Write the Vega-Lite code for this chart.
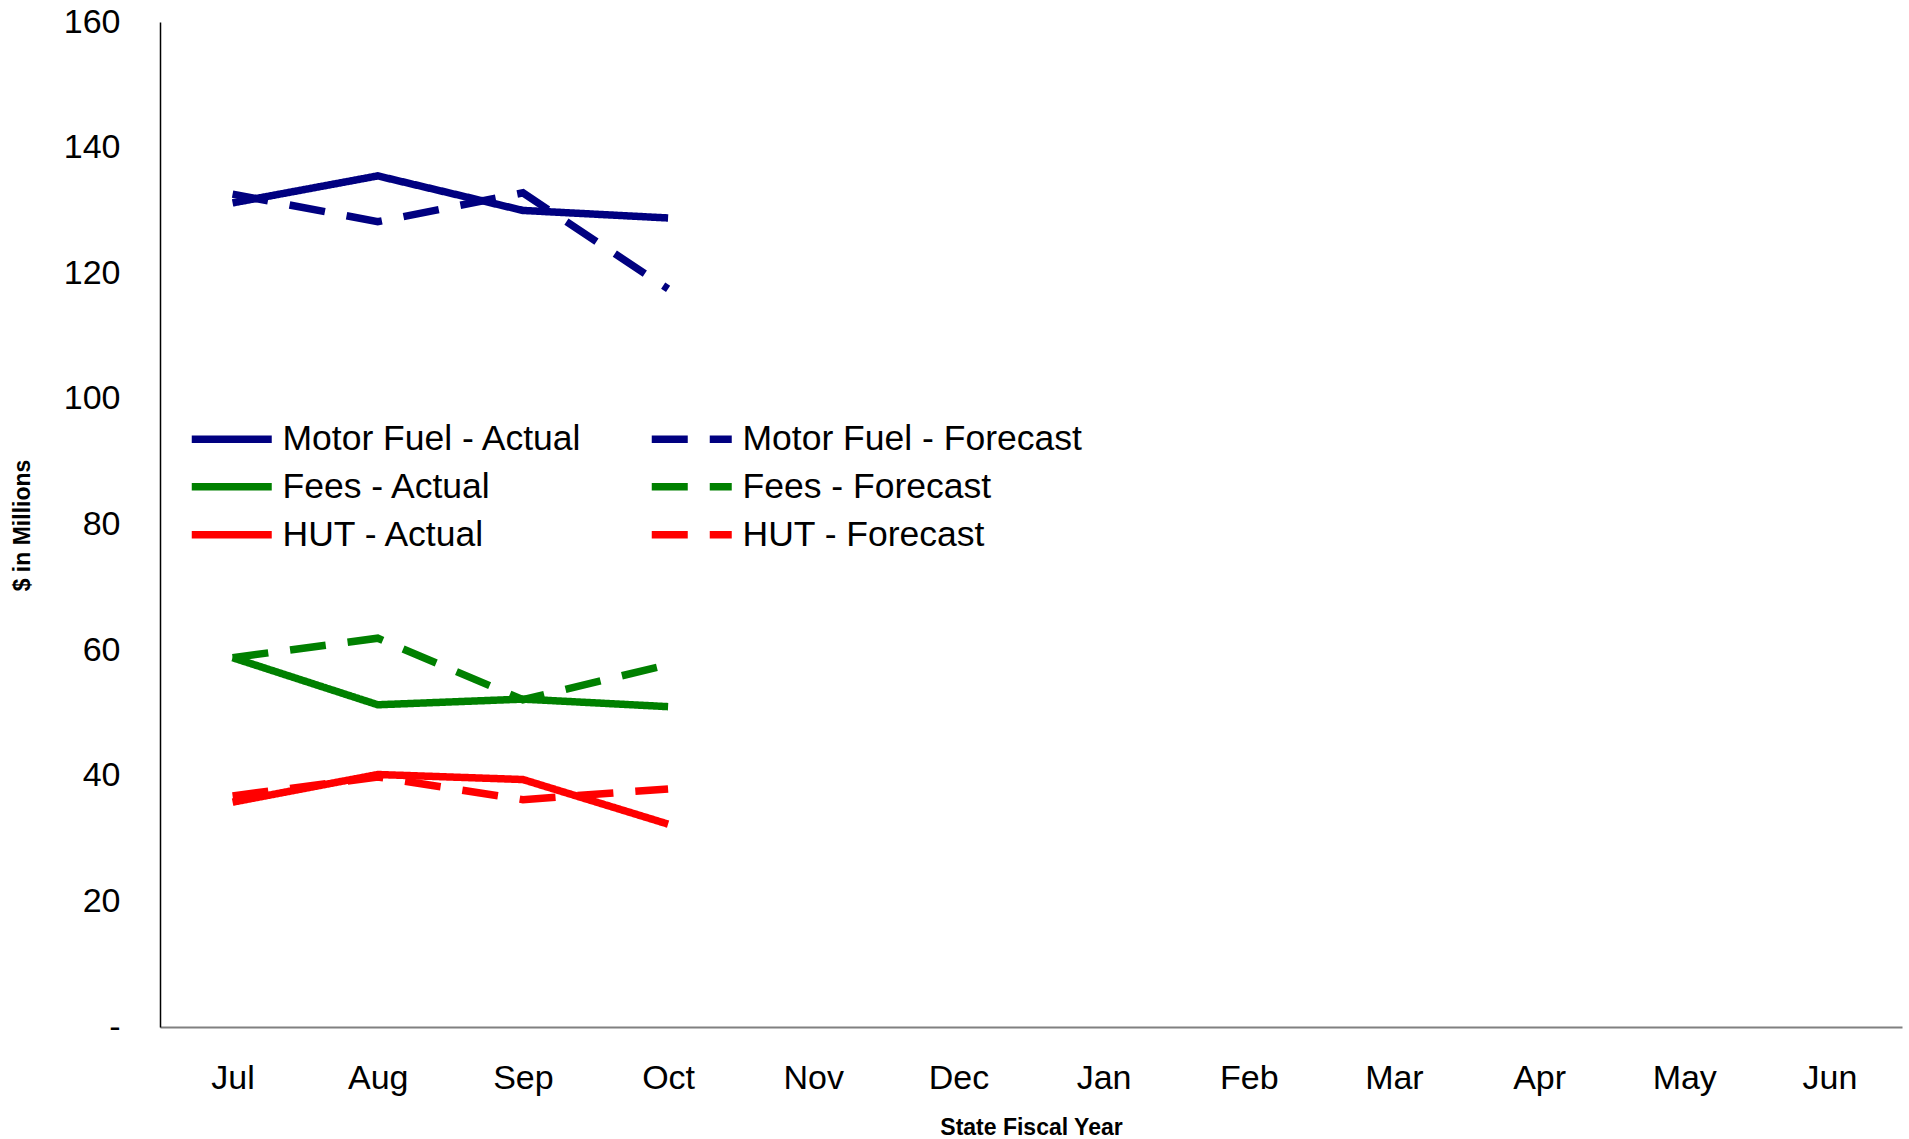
{
  "$schema": "https://vega.github.io/schema/vega-lite/v6.json",
  "width": 1742,
  "height": 1005,
  "autosize": {"type": "none"},
  "padding": {"left": 160, "top": 22, "right": 7, "bottom": 112},
  "background": "white",
  "config": {
    "view": {"stroke": null},
    "font": "Liberation Sans"
  },
  "data": {
    "values": [
      {"month": "Jul", "series": "Motor Fuel - Actual", "value": 131.2},
      {"month": "Aug", "series": "Motor Fuel - Actual", "value": 135.5},
      {"month": "Sep", "series": "Motor Fuel - Actual", "value": 130.0},
      {"month": "Oct", "series": "Motor Fuel - Actual", "value": 128.8},
      {"month": "Jul", "series": "Motor Fuel - Forecast", "value": 132.6},
      {"month": "Aug", "series": "Motor Fuel - Forecast", "value": 128.2},
      {"month": "Sep", "series": "Motor Fuel - Forecast", "value": 132.8},
      {"month": "Oct", "series": "Motor Fuel - Forecast", "value": 117.5},
      {"month": "Jul", "series": "Fees - Actual", "value": 58.8},
      {"month": "Aug", "series": "Fees - Actual", "value": 51.3},
      {"month": "Sep", "series": "Fees - Actual", "value": 52.2},
      {"month": "Oct", "series": "Fees - Actual", "value": 51.0},
      {"month": "Jul", "series": "Fees - Forecast", "value": 58.8},
      {"month": "Aug", "series": "Fees - Forecast", "value": 61.9},
      {"month": "Sep", "series": "Fees - Forecast", "value": 52.1},
      {"month": "Oct", "series": "Fees - Forecast", "value": 57.7},
      {"month": "Jul", "series": "HUT - Actual", "value": 35.8},
      {"month": "Aug", "series": "HUT - Actual", "value": 40.2},
      {"month": "Sep", "series": "HUT - Actual", "value": 39.4},
      {"month": "Oct", "series": "HUT - Actual", "value": 32.3},
      {"month": "Jul", "series": "HUT - Forecast", "value": 36.8},
      {"month": "Aug", "series": "HUT - Forecast", "value": 39.8},
      {"month": "Sep", "series": "HUT - Forecast", "value": 36.2},
      {"month": "Oct", "series": "HUT - Forecast", "value": 37.9}
    ]
  },
  "mark": {"type": "line", "strokeCap": "butt", "strokeJoin": "miter"},
  "encoding": {
    "x": {
      "field": "month",
      "type": "ordinal",
      "sort": ["Jul", "Aug", "Sep", "Oct", "Nov", "Dec", "Jan", "Feb", "Mar", "Apr", "May", "Jun"],
      "scale": {
        "type": "point",
        "padding": 0.5,
        "domain": ["Jul", "Aug", "Sep", "Oct", "Nov", "Dec", "Jan", "Feb", "Mar", "Apr", "May", "Jun"]
      },
      "axis": {
        "title": "State Fiscal Year",
        "titleFont": "Liberation Sans",
        "titleFontSize": 23,
        "titleFontWeight": "bold",
        "titleColor": "black",
        "titleX": 871,
        "titleY": 100,
        "titleBaseline": "middle",
        "labelAngle": 0,
        "labelFontSize": 34,
        "labelFont": "Liberation Sans",
        "labelColor": "black",
        "labelPadding": 34,
        "ticks": false,
        "domainColor": "#808080",
        "domainWidth": 2,
        "grid": false
      }
    },
    "y": {
      "field": "value",
      "type": "quantitative",
      "scale": {"domain": [0, 160], "nice": false, "zero": true},
      "axis": {
        "title": "$ in Millions",
        "titleFont": "Liberation Sans",
        "titleFontSize": 23,
        "titleFontWeight": "bold",
        "titleColor": "black",
        "titleAngle": -90,
        "titleX": -138,
        "titleY": 503,
        "titleAlign": "center",
        "titleBaseline": "middle",
        "values": [0, 20, 40, 60, 80, 100, 120, 140, 160],
        "labelExpr": "datum.value == 0 ? '-' : datum.label",
        "labelFontSize": 34,
        "labelFont": "Liberation Sans",
        "labelColor": "black",
        "labelPadding": 40,
        "ticks": false,
        "domainColor": "black",
        "domainWidth": 1.5,
        "grid": false
      }
    },
    "color": {
      "field": "series",
      "type": "nominal",
      "scale": {
        "domain": ["Motor Fuel - Actual", "Fees - Actual", "HUT - Actual", "Motor Fuel - Forecast", "Fees - Forecast", "HUT - Forecast"],
        "range": ["#000080", "#008000", "#FF0000", "#000080", "#008000", "#FF0000"]
      },
      "legend": {
        "title": null,
        "orient": "none",
        "legendX": 54,
        "legendY": 399,
        "columns": 2,
        "columnPadding": 53,
        "rowPadding": 11,
        "symbolType": "M -4 0 H 4",
        "symbolSize": 400,
        "labelFontSize": 35.5,
        "labelFont": "Liberation Sans",
        "labelColor": "black",
        "labelOffset": 33,
        "labelLimit": 600
      }
    },
    "strokeDash": {
      "field": "series",
      "type": "nominal",
      "scale": {
        "domain": ["Motor Fuel - Actual", "Fees - Actual", "HUT - Actual", "Motor Fuel - Forecast", "Fees - Forecast", "HUT - Forecast"],
        "range": [[1, 0], [1, 0], [1, 0], [36, 22], [36, 22], [36, 22]]
      },
      "legend": {"title": null}
    },
    "strokeWidth": {
      "field": "series",
      "type": "nominal",
      "scale": {
        "domain": ["Motor Fuel - Actual", "Fees - Actual", "HUT - Actual", "Motor Fuel - Forecast", "Fees - Forecast", "HUT - Forecast"],
        "range": [7.5, 7.5, 7.5, 4.2, 4.2, 4.2]
      },
      "legend": {"title": null}
    }
  }
}
